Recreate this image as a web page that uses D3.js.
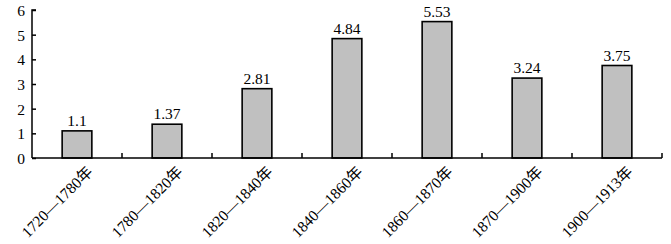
<!DOCTYPE html>
<html>
<head>
<meta charset="utf-8">
<script src="https://cdn.jsdelivr.net/npm/d3@7"></script>
<style>
  body { margin: 0; background: #fff; }
  text { font-family: "Liberation Serif", "Noto Sans CJK SC", serif; fill: #000; }
</style>
</head>
<body>
<div class="canvas"></div>
<script>
// data
const categories = ['1720—1780年', '1780—1820年', '1820—1840年', '1840—1860年', '1860—1870年', '1870—1900年', '1900—1913年'];
const values = [1.1, 1.37, 2.81, 4.84, 5.53, 3.24, 3.75];
const yTicks = [0, 1, 2, 3, 4, 5, 6];

const WIDTH = 671, HEIGHT = 244;
const MARGIN = { top: 10, right: 9, bottom: 86, left: 32 };
const GRAPH_WIDTH = WIDTH - MARGIN.left - MARGIN.right;
const GRAPH_HEIGHT = HEIGHT - MARGIN.top - MARGIN.bottom;

const svg = d3.select('.canvas').append('svg')
  .attr('width', WIDTH)
  .attr('height', HEIGHT);

const graph = svg.append('g')
  .attr('transform', `translate(${MARGIN.left}, ${MARGIN.top})`);

//scales
const x = d3.scaleBand().domain(categories).range([0, GRAPH_WIDTH]).paddingInner(0).paddingOuter(0);
const y = d3.scaleLinear().domain([0, 6]).range([GRAPH_HEIGHT, 0]);
const barW = x.bandwidth() * 0.33;

//bars
graph.selectAll('rect.bar')
  .data(values)
  .enter().append('rect')
  .attr('class', 'bar')
  .attr('x', (d, i) => x(categories[i]) + x.bandwidth() / 2 - barW / 2)
  .attr('y', d => y(d))
  .attr('width', barW)
  .attr('height', d => y(0) - y(d))
  .attr('fill', '#c0c0c0')
  .attr('stroke', '#000')
  .attr('stroke-width', 1.6);

//value labels
graph.selectAll('text.val')
  .data(values)
  .enter().append('text')
  .attr('class', 'val')
  .attr('x', (d, i) => x(categories[i]) + x.bandwidth() / 2)
  .attr('y', d => y(d) - 5)
  .attr('text-anchor', 'middle')
  .style('font-size', '15.5px')
  .text(d => d);

//y axis
const yAxis = d3.axisRight(y).tickValues(yTicks).tickSize(4).tickFormat(d3.format('d'));
const yAxisGroup = graph.append('g').attr('class', 'y-axis').call(yAxis);
yAxisGroup.select('.domain').attr('d', `M0,${GRAPH_HEIGHT}V0H4`).attr('stroke', '#000').attr('stroke-width', 1.5);
yAxisGroup.selectAll('.tick line').attr('stroke', '#000').attr('stroke-width', 1.5);
yAxisGroup.selectAll('.tick text')
  .attr('x', -7)
  .attr('text-anchor', 'end')
  .style('font-size', '15.5px')
  .attr('dy', '0.35em');

//x axis, ticks between categories pointing up
const boundaries = categories.map(c => x(c) + x.bandwidth());
const xAxisGroup = graph.append('g')
  .attr('class', 'x-axis')
  .attr('transform', `translate(0, ${GRAPH_HEIGHT})`);
xAxisGroup.append('line')
  .attr('x1', 0).attr('x2', GRAPH_WIDTH)
  .attr('stroke', '#000').attr('stroke-width', 1.5);
xAxisGroup.selectAll('line.tick')
  .data(boundaries)
  .enter().append('line')
  .attr('class', 'tick')
  .attr('x1', d => d).attr('x2', d => d)
  .attr('y1', 0).attr('y2', -5)
  .attr('stroke', '#000').attr('stroke-width', 1.5);

xAxisGroup.selectAll('text.cat')
  .data(categories)
  .enter().append('text')
  .attr('class', 'cat')
  .attr('text-anchor', 'end')
  .attr('transform', d => `translate(${x(d) + x.bandwidth() / 2 + 9}, ${7}) rotate(-45)`)
  .style('font-size', '15.5px')
  .attr('dy', '0.7em')
  .text(d => d);
</script>
</body>
</html>
